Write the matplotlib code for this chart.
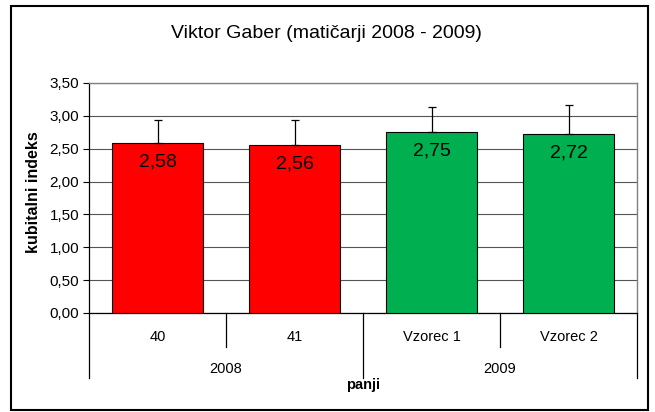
import matplotlib
matplotlib.use("Agg")
import matplotlib.pyplot as plt
from matplotlib.patches import Rectangle
import matplotlib.transforms as mtransforms

categories = ["40", "41", "Vzorec 1", "Vzorec 2"]
groups = ["2008", "2009"]
group_sizes = [2, 2]
values = [2.58, 2.56, 2.75, 2.72]
errors = [0.36, 0.38, 0.38, 0.44]
value_labels = ["2,58", "2,56", "2,75", "2,72"]
colors = ["#FF0000", "#FF0000", "#00B050", "#00B050"]
yticks = [0.0, 0.5, 1.0, 1.5, 2.0, 2.5, 3.0, 3.5]
ytick_labels = ["0,00", "0,50", "1,00", "1,50", "2,00", "2,50", "3,00", "3,50"]

plt.rcParams['font.family'] = ['Liberation Sans', 'DejaVu Sans']

W, H = 655, 412
fig = plt.figure(figsize=(W / 100, H / 100), dpi=100)
fig.patch.set_facecolor("white")

# outer frame
fig.patches.append(Rectangle((11 / W, 1 - 410 / H), (648 - 11) / W, (410 - 6) / H,
                             transform=fig.transFigure, fill=False,
                             edgecolor="black", linewidth=1.5))

left, right, top, bottom = 89, 637, 83, 313
ax = fig.add_axes([left / W, 1 - bottom / H, (right - left) / W, (bottom - top) / H])

x = list(range(len(categories)))
ax.bar(x, values, width=0.667, color=colors, edgecolor="black", linewidth=0.8, zorder=3)
ax.errorbar(x, values, yerr=[[0] * len(errors), errors], fmt="none",
            ecolor="black", elinewidth=0.9, capsize=2.7, capthick=0.9, zorder=4)
for xi, v, lab in zip(x, values, value_labels):
    ax.annotate(lab, (xi, v), xytext=(0, -13.5), textcoords="offset points",
                ha="center", va="center", fontsize=14, zorder=5)

ax.set_xlim(-0.5, len(categories) - 0.5)
ax.set_ylim(0, 3.5)
ax.set_yticks(yticks)
ax.set_yticklabels(ytick_labels, fontsize=11)
ax.tick_params(axis="y", direction="out", length=4, width=0.8, pad=3)
ax.set_xticks([])
ax.yaxis.grid(True, color="#555555", linewidth=0.8, zorder=0)
ax.set_axisbelow(True)

for s in ["top", "right"]:
    ax.spines[s].set_color("#808080")
    ax.spines[s].set_linewidth(1.0)
ax.spines["left"].set_color("black")
ax.spines["bottom"].set_color("black")
ax.spines["left"].set_linewidth(0.9)
ax.spines["bottom"].set_linewidth(0.9)

trans = mtransforms.blended_transform_factory(ax.transData, ax.transAxes)
axh = bottom - top
inner_y = -(347 - bottom) / axh
outer_y = -(378 - bottom) / axh
label1_y = -(337 - bottom) / axh
label2_y = -(369 - bottom) / axh

# group boundaries
bounds = [-0.5]
for gs in group_sizes:
    bounds.append(bounds[-1] + gs)
for b in bounds:
    ax.plot([b, b], [0, outer_y], transform=trans, color="black", lw=0.9, clip_on=False)
# inner boundaries
for i in range(1, len(categories)):
    xb = i - 0.5
    if xb not in bounds:
        ax.plot([xb, xb], [0, inner_y], transform=trans, color="black", lw=0.9, clip_on=False)

for xi, c in zip(x, categories):
    ax.text(xi, label1_y, c, transform=trans, ha="center", va="center", fontsize=10.5)
for gi, g in enumerate(groups):
    cx = (bounds[gi] + bounds[gi + 1]) / 2
    ax.text(cx, label2_y, g, transform=trans, ha="center", va="center", fontsize=10.5)

fig.text(363 / W, 1 - 385 / H, "panji", ha="center", va="center", fontsize=10.5, fontweight="bold")
fig.text(33 / W, 1 - 192 / H, "kubitalni indeks", ha="center", va="center",
         fontsize=11.5, fontweight="bold", rotation=90)
fig.text(326 / W, 1 - 33 / H, "Viktor Gaber (matičarji 2008 - 2009)", ha="center",
         va="center", fontsize=14)

fig.savefig("out.png", dpi=100, facecolor="white")
